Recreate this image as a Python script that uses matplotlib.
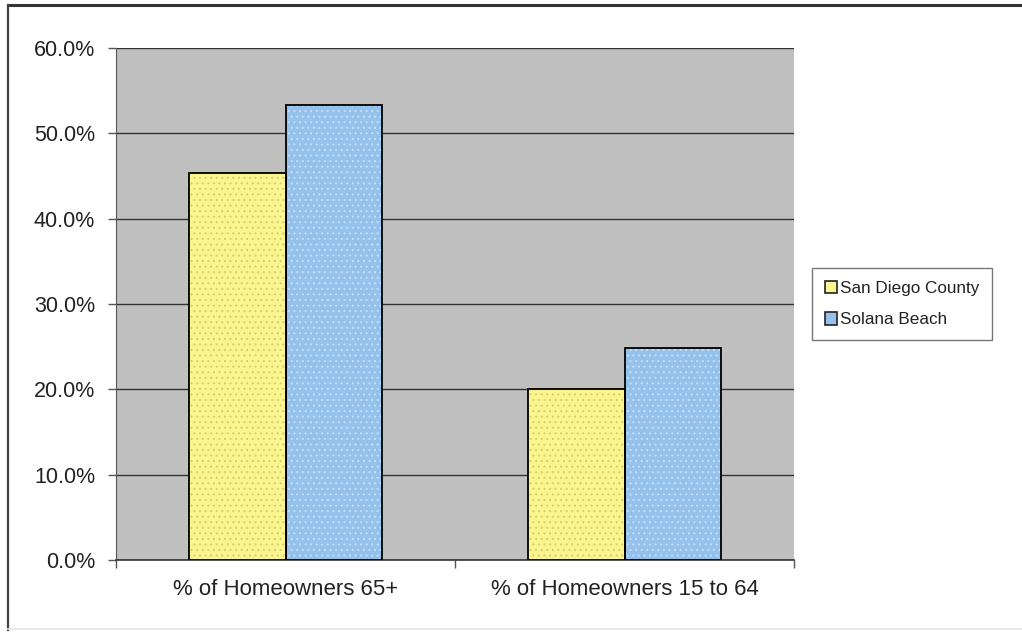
import matplotlib.pyplot as plt
from matplotlib.patches import Rectangle
from matplotlib.ticker import FuncFormatter, MultipleLocator
import numpy as np

plt.rcParams['font.family'] = ['Liberation Sans', 'DejaVu Sans']
plt.rcParams['hatch.linewidth'] = 0.8

categories = ["% of Homeowners 65+", "% of Homeowners 15 to 64"]
san_diego = [45.4, 20.0]
solana_beach = [53.3, 24.8]

series = [
    ("San Diego County", san_diego, "#FAF58C", "#D6D07A"),
    ("Solana Beach", solana_beach, "#94C2EC", "#C4DDF4"),
]

fig = plt.figure(figsize=(10.22, 6.33), dpi=100)
ax = fig.add_axes([0.1135, 0.1153, 0.6635, 0.8088])
ax.set_facecolor("#C0C0C0")

x = np.arange(len(categories))
width = 0.285
for i, (name, vals, fill, dots) in enumerate(series):
    pos = x + (i - 0.5) * width
    # dotted fill first, then a plain black outline on top
    ax.bar(pos, vals, width, color=fill, edgecolor=dots, hatch="...", linewidth=0, zorder=3)
    ax.bar(pos, vals, width, facecolor="none", edgecolor="black", linewidth=1.3, zorder=4)

handles = [Rectangle((0, 0), 1, 1, facecolor=fill, edgecolor="#222222", linewidth=1.2)
           for _, _, fill, _ in series]
leg = ax.legend(handles, [s[0] for s in series], loc="center left",
                bbox_to_anchor=(1.026, 0.5), fontsize=12.3, frameon=True,
                fancybox=False, edgecolor="#555555", handlelength=0.75,
                handleheight=0.75, handletextpad=0.15, borderpad=0.75,
                labelspacing=0.95, borderaxespad=0)
leg.get_frame().set_linewidth(1.0)
for t in leg.get_texts():
    t.set_color("#222222")

ax.set_xlim(-0.5, 1.5)
ax.set_ylim(0, 60)
ax.yaxis.set_major_locator(MultipleLocator(10))
ax.yaxis.set_major_formatter(FuncFormatter(lambda v, _: f"{v:.1f}%"))
ax.grid(axis="y", color="#333333", linewidth=1.0, zorder=1)
ax.set_axisbelow(True)

ax.set_xticks(x)
ax.set_xticklabels(categories)
ax.set_xticks([-0.5, 0.5, 1.5], minor=True)
ax.tick_params(axis="x", which="major", length=0, pad=14, labelsize=16, colors="#222222")
ax.tick_params(axis="x", which="minor", length=6, width=1, direction="out", color="#555555")
ax.tick_params(axis="y", length=6, width=1, direction="out", pad=9, labelsize=15.5,
               colors="#222222")
ax.tick_params(axis="y", color="#555555")

for side in ("top", "right"):
    ax.spines[side].set_visible(False)
ax.spines["left"].set_color("#555555")
ax.spines["bottom"].set_color("#333333")
ax.spines["bottom"].set_linewidth(1.2)

# chart frame, open on the right
fig.add_artist(plt.Line2D([0.008, 1.0], [0.992, 0.992], color="#333333", linewidth=2.2,
                          transform=fig.transFigure))
fig.add_artist(plt.Line2D([0.008, 0.008], [0.005, 0.992], color="#444444", linewidth=1.6,
                          transform=fig.transFigure))
fig.add_artist(plt.Line2D([0.008, 1.0], [0.006, 0.006], color="#E4E4E4", linewidth=1.2,
                          transform=fig.transFigure))

fig.savefig("out.png", dpi=100)
